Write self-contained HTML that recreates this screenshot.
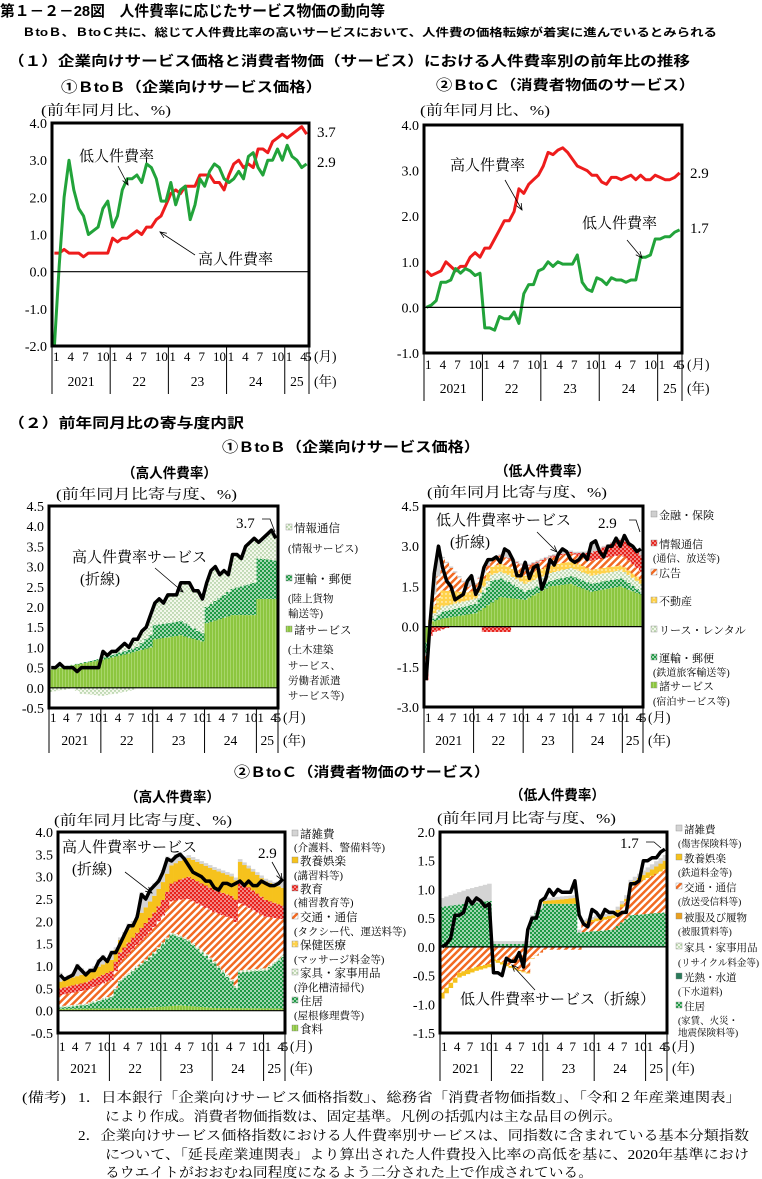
<!DOCTYPE html>
<html><head><meta charset="utf-8">
<style>
html,body{margin:0;padding:0;background:#fff;}
svg{display:block;}
.g{font-family:"Liberation Sans","Noto Sans CJK JP",sans-serif;font-weight:bold;}
.s{font-family:"Liberation Serif","Noto Serif CJK SC",serif;}
</style></head><body>
<svg id="sv" width="762" height="1179" viewBox="0 0 762 1179" xmlns="http://www.w3.org/2000/svg">
<defs>
<pattern id="gdot" width="4" height="4" patternUnits="userSpaceOnUse"><rect width="4" height="4" fill="#1e9a44"/><circle cx="1" cy="1" r="0.9" fill="#fff"/><circle cx="3" cy="3" r="0.9" fill="#fff"/></pattern>
<pattern id="wdot" width="4" height="4" patternUnits="userSpaceOnUse"><rect width="4" height="4" fill="#f4f8ec"/><circle cx="1" cy="1" r="0.7" fill="#7bb26a"/><circle cx="3" cy="3" r="0.7" fill="#7bb26a"/></pattern>
<pattern id="hatch" width="5" height="5" patternUnits="userSpaceOnUse" patternTransform="rotate(45)"><rect width="5" height="5" fill="#fff"/><rect width="2.5" height="5" fill="#f26a22"/></pattern>
<pattern id="rdot" width="4" height="4" patternUnits="userSpaceOnUse"><rect width="4" height="4" fill="#e8221c"/><circle cx="1" cy="1" r="0.8" fill="#fff"/><circle cx="3" cy="3" r="0.8" fill="#fff"/></pattern>
<pattern id="ydot" width="4" height="4" patternUnits="userSpaceOnUse"><rect width="4" height="4" fill="#ffd24a"/><circle cx="2" cy="2" r="0.7" fill="#fff"/></pattern>
<pattern id="lg" width="3" height="3" patternUnits="userSpaceOnUse"><rect width="3" height="3" fill="#8cc63f"/><rect x="2" width="1" height="3" fill="#a8d66a"/></pattern>
</defs>

<text class="g" x="0" y="16" font-size="15" textLength="385" lengthAdjust="spacingAndGlyphs">第１－２－28図　人件費率に応じたサービス物価の動向等</text>
<text class="g" x="22" y="36" font-size="11" textLength="695" lengthAdjust="spacingAndGlyphs">ＢtoＢ、ＢtoＣ共に、総じて人件費比率の高いサービスにおいて、人件費の価格転嫁が着実に進んでいるとみられる</text>
<text class="g" x="8" y="66" font-size="14" textLength="682" lengthAdjust="spacingAndGlyphs">（１）企業向けサービス価格と消費者物価（サービス）における人件費率別の前年比の推移</text>
<text class="g" x="61" y="92" font-size="14" textLength="261" lengthAdjust="spacingAndGlyphs">①ＢtoＢ（企業向けサービス価格）</text>
<text class="g" x="436" y="90" font-size="14" textLength="259" lengthAdjust="spacingAndGlyphs">②ＢtoＣ（消費者物価のサービス）</text>
<text class="s" x="41" y="115" font-size="14" textLength="130" lengthAdjust="spacingAndGlyphs">(前年同月比、%)</text>
<text class="s" x="420" y="115" font-size="14" textLength="130" lengthAdjust="spacingAndGlyphs">(前年同月比、%)</text>

<text class="g" x="8" y="428" font-size="14" textLength="236" lengthAdjust="spacingAndGlyphs">（２）前年同月比の寄与度内訳</text>
<text class="g" x="222" y="452" font-size="14" textLength="258" lengthAdjust="spacingAndGlyphs">①ＢtoＢ（企業向けサービス価格）</text>
<text class="g" x="122" y="478" font-size="14" textLength="95" lengthAdjust="spacingAndGlyphs">（高人件費率）</text>
<text class="g" x="495" y="476" font-size="14" textLength="95" lengthAdjust="spacingAndGlyphs">（低人件費率）</text>
<text class="s" x="56" y="499" font-size="14" textLength="181" lengthAdjust="spacingAndGlyphs">(前年同月比寄与度、%)</text>
<text class="s" x="427" y="497" font-size="14" textLength="180" lengthAdjust="spacingAndGlyphs">(前年同月比寄与度、%)</text>

<text class="g" x="234" y="777" font-size="14" textLength="256" lengthAdjust="spacingAndGlyphs">②ＢtoＣ（消費者物価のサービス）</text>
<text class="g" x="125" y="802" font-size="14" textLength="95" lengthAdjust="spacingAndGlyphs">（高人件費率）</text>
<text class="g" x="510" y="800" font-size="14" textLength="95" lengthAdjust="spacingAndGlyphs">（低人件費率）</text>
<text class="s" x="54" y="825" font-size="14" textLength="178" lengthAdjust="spacingAndGlyphs">(前年同月比寄与度、%)</text>
<text class="s" x="437" y="823" font-size="14" textLength="179" lengthAdjust="spacingAndGlyphs">(前年同月比寄与度、%)</text>

<g class="s" font-size="13.5">
<text x="22" y="1102" textLength="44" lengthAdjust="spacingAndGlyphs">(備考)</text>
<text x="78" y="1102" textLength="663" lengthAdjust="spacingAndGlyphs">1．日本銀行「企業向けサービス価格指数」、総務省「消費者物価指数」、「令和２年産業連関表」</text>
<text x="105" y="1121" textLength="517" lengthAdjust="spacingAndGlyphs">により作成。消費者物価指数は、固定基準。凡例の括弧内は主な品目の例示。</text>
<text x="78" y="1140" textLength="671" lengthAdjust="spacingAndGlyphs">2．企業向けサービス価格指数における人件費率別サービスは、同指数に含まれている基本分類指数</text>
<text x="105" y="1159" textLength="644" lengthAdjust="spacingAndGlyphs">について、「延長産業連関表」より算出された人件費投入比率の高低を基に、2020年基準におけ</text>
<text x="105" y="1177" textLength="488" lengthAdjust="spacingAndGlyphs">るウエイトがおおむね同程度になるよう二分された上で作成されている。</text>
</g>
<g id="charts"></g>
</svg>
<script>
var NS="http://www.w3.org/2000/svg",root=document.getElementById("charts");
function el(t,a,p,txt){var e=document.createElementNS(NS,t);for(var k in a)e.setAttribute(k,a[k]);if(txt!=null)e.textContent=txt;(p||root).appendChild(e);return e;}
function interp(keys){var o=[];for(var i=0;i<53;i++){for(var j=0;j<keys.length-1;j++){var a=keys[j],b=keys[j+1];if(i>=a[0]&&i<=b[0]){o.push(a[1]+(b[1]-a[1])*(i-a[0])/((b[0]-a[0])||1));break;}}if(o.length<=i)o.push(keys[keys.length-1][1]);}return o;}
function Chart(c){
 var W=c.x1-c.x0,dx=W/53;
 c.X=function(i){return c.x0+(i+0.5)*dx;};
 c.Y=function(v){return c.y0+(c.vmax-v)/(c.vmax-c.vmin)*(c.y1-c.y0);};
 c.ticks.forEach(function(t){el("text",{x:c.x0-5,y:c.Y(t[0])+5,"text-anchor":"end","font-size":14,"class":"s"},null,t[1]);});
 return c;}
function frame(c){
 el("line",{x1:c.x0,x2:c.x1,y1:c.Y(0),y2:c.Y(0),stroke:"#000","stroke-width":1.2});
 el("rect",{x:c.x0,y:c.y0,width:c.x1-c.x0,height:c.y1-c.y0,fill:"none",stroke:"#000","stroke-width":3});
 var dx=(c.x1-c.x0)/53;
 var yrs=["2021","22","23","24","25"];
 for(var y=0;y<=5;y++){var xi=c.x0+Math.min(y*12,53)*dx;el("line",{x1:xi,x2:xi,y1:c.y1,y2:c.yl+8,stroke:"#000","stroke-width":1});}
 for(var i=0;i<53;i++){var m=i%12;if(m==0||m==3||m==6||m==9||i==52){el("text",{x:c.x0+i*dx+1,y:c.ml,"font-size":13,"class":"s"},null,i==52?"5":String(m+1));}}
 for(var y=0;y<5;y++){var a=y*12,b=Math.min(a+12,53);el("text",{x:c.x0+(a+b)/2*dx,y:c.yl,"font-size":13.5,"text-anchor":"middle","class":"s"},null,yrs[y]);}
 el("text",{x:c.x1+5,y:c.ml,"font-size":13.5,"class":"s"},null,"(月)");
 el("text",{x:c.x1+5,y:c.yl,"font-size":13.5,"class":"s"},null,"(年)");
}
function line(c,d,col,w){var p=d.map(function(v,i){return (i?"L":"M")+c.X(i).toFixed(1)+","+c.Y(v).toFixed(1);}).join("");el("path",{d:p,fill:"none",stroke:col,"stroke-width":w,"stroke-linejoin":"round"});}
function bars(c,comps){var dx=(c.x1-c.x0)/53;for(var i=0;i<53;i++){var pos=0,neg=0;comps.forEach(function(cp){var v=cp.d[i];if(!v)return;var a,b;if(v>0){a=pos;b=pos+v;pos=b;}else{a=neg;b=neg+v;neg=b;}var ya=c.Y(a),yb=c.Y(b);el("rect",{x:c.x0+i*dx,y:Math.min(ya,yb),width:dx+0.3,height:Math.abs(ya-yb),fill:cp.f});});}}
function txt(x,y,s,fs,cls){el("text",{x:x,y:y,"font-size":fs,"class":cls||"s"},null,s);}
function arr(x1,y1,x2,y2){el("line",{x1:x1,y1:y1,x2:x2,y2:y2,stroke:"#000","stroke-width":0.8});var a=Math.atan2(y2-y1,x2-x1),L=7;el("path",{d:"M"+(x2-L*Math.cos(a-0.4))+","+(y2-L*Math.sin(a-0.4))+"L"+x2+","+y2+"L"+(x2-L*Math.cos(a+0.4))+","+(y2-L*Math.sin(a+0.4)),fill:"none",stroke:"#000","stroke-width":0.8});}
function leg(x,items,fs){fs=fs||11.5;items.forEach(function(it){if(it[2]){el("rect",{x:x,y:it[1]-8,width:6,height:6,fill:it[2],stroke:"#888","stroke-width":0.4});txt(x+8,it[1],it[0],fs);}else txt(x+2,it[1],it[0],fs-1);});}

var bbHigh=[.5,.5,.6,.5,.5,.5,.4,.5,.5,.5,.5,.5, .9,.8,.9,.9,1.0,1.1,1.0,1.2,1.2,1.4,1.5,1.8, 2.1,2.2,2.1,2.3,2.3,2.3,2.6,2.6,2.6,2.4,2.4,2.2, 2.6,2.9,3.0,2.8,2.9,2.8,3.3,3.3,3.2,3.5,3.6,3.7, 3.6,3.7,3.8,3.9,3.7];
var bbLow=[-2.0,0.2,2.0,3.0,2.2,1.7,1.5,1.0,1.1,1.2,1.7,1.9, 1.2,1.5,2.2,2.5,2.5,2.6,2.4,2.9,2.8,2.5,1.9,1.9, 2.4,1.8,2.2,2.3,1.4,1.8,2.5,2.3,2.7,2.9,2.8,2.5, 2.4,2.5,2.7,2.5,3.1,3.2,2.8,2.6,3.0,3.0,3.3,3.0, 3.4,3.1,3.0,2.8,2.9];
var bcHigh=[.8,.7,.75,.8,1.0,.9,.8,.9,.9,1.1,1.2,1.1, 1.3,1.3,1.5,1.7,1.9,1.9,2.1,2.6,2.5,2.7,2.8,2.9, 3.1,3.4,3.35,3.45,3.5,3.4,3.25,3.1,3.05,3.0,2.9,2.9, 2.75,2.7,2.85,2.85,2.8,2.85,2.9,2.8,2.9,2.8,2.8,2.9, 2.85,2.8,2.8,2.85,2.95];
var bcLow=[0.0,.05,.15,.55,.55,.6,.85,.75,.85,.8,.7,.75, -.45,-.45,-.5,-.2,-.25,-.25,-.1,-.35,.3,.5,.5,.8, .85,1.0,.9,1.0,.95,.95,.95,1.15,.55,.4,.35,.65, .6,.5,.65,.6,.6,.55,.6,.6,1.1,1.1,1.15,1.5, 1.5,1.55,1.55,1.65,1.7];

var c1=Chart({x0:52,x1:309,y0:123,y1:346,vmax:4,vmin:-2,ml:361,yl:386,ticks:[[4,"4.0"],[3,"3.0"],[2,"2.0"],[1,"1.0"],[0,"0.0"],[-1,"-1.0"],[-2,"-2.0"]]});
line(c1,bbHigh,"#ee1c1c",3);line(c1,bbLow,"#22a33a",3);frame(c1);
txt(79,161,"低人件費率",15);arr(118,166,128,185);
txt(198,264,"高人件費率",15);arr(195,255,160,232);
txt(317,137,"3.7",15);txt(317,167,"2.9",15);

var c2=Chart({x0:424,x1:682,y0:125,y1:353,vmax:4,vmin:-1,ml:369,yl:393,ticks:[[4,"4.0"],[3,"3.0"],[2,"2.0"],[1,"1.0"],[0,"0.0"],[-1,"-1.0"]]});
line(c2,bcHigh,"#ee1c1c",3);line(c2,bcLow,"#22a33a",3);frame(c2);
txt(450,170,"高人件費率",15);arr(505,180,522,210);
txt(582,228,"低人件費率",15);arr(627,240,642,258);
txt(690,178,"2.9",15);txt(690,233,"1.7",15);

var c3=Chart({x0:49,x1:278,y0:506,y1:708,vmax:4.5,vmin:-0.5,ml:722,yl:745,ticks:[[4.5,"4.5"],[4,"4.0"],[3.5,"3.5"],[3,"3.0"],[2.5,"2.5"],[2,"2.0"],[1.5,"1.5"],[1,"1.0"],[.5,"0.5"],[0,"0.0"],[-.5,"-0.5"]]});
var sv3=interp([[0,.45],[12,.7],[18,.85],[23,1.0],[24,1.2],[30,1.3],[35,1.15],[36,1.6],[42,1.8],[47,1.8],[48,2.2],[52,2.2]]);
var tr3=interp([[0,0],[11,.03],[12,.05],[20,.1],[23,.3],[24,.35],[30,.35],[35,.2],[36,.4],[42,.65],[47,.8],[48,1.0],[52,.95]]);
var in3=bbHigh.map(function(v,i){return Math.max(0,v-sv3[i]-tr3[i]);});
var inN=interp([[0,-.1],[3,-.05],[5,0],[7,-.15],[12,-.2],[16,-.12],[19,-.05],[20,0],[52,0]]);
bars(c3,[{d:sv3,f:"url(#lg)"},{d:tr3,f:"url(#gdot)"},{d:in3,f:"url(#wdot)"},{d:inN,f:"url(#wdot)"}]);
line(c3,bbHigh,"#000",3.5);frame(c3);
txt(72,562,"高人件費率サービス",15);txt(80,584,"(折線)",15);arr(155,568,183,592);
txt(236,528,"3.7",15);el("path",{d:"M262,519 L270,519 L275,532",fill:"none",stroke:"#000","stroke-width":.8});
leg(286,[["情報通信",532,"url(#wdot)"],["(情報サービス)",552],["運輸・郵便",583,"url(#gdot)"],["(陸上貨物",602],["輸送等)",617],["諸サービス",634,"url(#lg)"],["(土木建築",653],["サービス、",669],["労働者派遣",684],["サービス等)",699]]);

var c4=Chart({x0:424,x1:643,y0:506,y1:707,vmax:4.5,vmin:-3,ml:722,yl:745,ticks:[[4.5,"4.5"],[3,"3.0"],[1.5,"1.5"],[0,"0.0"],[-1.5,"-1.5"],[-3,"-3.0"]]});
var sv4=interp([[0,-.6],[1,0],[2,.2],[4,.3],[12,.5],[18,1.1],[24,1.0],[30,1.5],[35,1.6],[40,1.3],[47,1.5],[52,1.2]]);
var tr4=interp([[0,-.4],[1,0],[2,.1],[4,.25],[12,.35],[16,.8],[20,.6],[24,.3],[30,.2],[36,.3],[48,.3],[52,.1]]);
var le4=interp([[0,0],[2,.2],[12,.2],[24,.3],[36,.3],[52,.3]]);
var re4=interp([[0,0],[2,.3],[4,.6],[10,.3],[24,.3],[36,.25],[52,.15]]);
var ad4=interp([[0,-.5],[1,0],[2,.4],[4,1.2],[7,.7],[10,.2],[20,.3],[36,.3],[48,.4],[52,.3]]);
var rf4=interp([[0,-.5],[2,-.2],[4,-.1],[6,0],[36,.05],[40,.3],[48,.6],[52,.6]]);
var rN=interp([[0,0],[13,0],[14,-.2],[20,-.2],[21,0],[52,0]]);
var gr4=bbLow.map(function(v,i){if(i<2)return 0;return Math.max(.05,v-sv4[i]-tr4[i]-le4[i]-re4[i]-ad4[i]-Math.max(0,rf4[i]));});
var rfP=rf4.map(function(v){return Math.max(0,v);}),rfN=rf4.map(function(v,i){return Math.min(0,v)+rN[i];});
bars(c4,[{d:sv4,f:"url(#lg)"},{d:tr4,f:"url(#gdot)"},{d:le4,f:"url(#wdot)"},{d:re4,f:"url(#ydot)"},{d:ad4,f:"url(#hatch)"},{d:rfP,f:"url(#rdot)"},{d:gr4,f:"#cfcfcf"},{d:rfN,f:"url(#rdot)"}]);
line(c4,bbLow,"#000",3.5);frame(c4);
txt(436,525,"低人件費率サービス",15);txt(450,547,"(折線)",15);arr(537,532,557,552);
txt(598,528,"2.9",15);el("path",{d:"M629,520 L636,520 L640,532",fill:"none",stroke:"#000","stroke-width":.8});
leg(651,[["金融・保険",519,"#cfcfcf"],["情報通信",548,"url(#rdot)"],["(通信、放送等)",562],["広告",577,"url(#hatch)"],["不動産",605,"url(#ydot)"],["リース・レンタル",634,"url(#wdot)"],["運輸・郵便",662,"url(#gdot)"],["(鉄道旅客輸送等)",676],["諸サービス",690,"url(#lg)"],["(宿泊サービス等)",705]],11);

var c5=Chart({x0:58,x1:285,y0:832,y1:1033,vmax:4,vmin:-0.5,ml:1051,yl:1073,ticks:[[4,"4.0"],[3.5,"3.5"],[3,"3.0"],[2.5,"2.5"],[2,"2.0"],[1.5,"1.5"],[1,"1.0"],[.5,"0.5"],[0,"0.0"],[-.5,"-0.5"]]});
var fd5=interp([[0,.04],[20,.06],[28,.12],[36,.06],[52,.05]]);
var ho5=interp([[0,.03],[6,.08],[12,.25],[14,.6],[18,.9],[22,1.2],[26,1.6],[30,1.45],[36,1.0],[40,.6],[41,.45],[42,.8],[48,.85],[52,1.15]]);
var tc5=interp([[0,.25],[12,.35],[24,.6],[30,.9],[36,1.1],[42,1.5],[48,1.15],[52,.8]]);
var ed5=interp([[0,.15],[12,.2],[24,.35],[30,.5],[42,.5],[52,.3]]);
var he5=interp([[0,.03],[52,.05]]);
var en5=interp([[0,.15],[12,.25],[24,.4],[36,.45],[52,.4]]);
var ms5=bcHigh.map(function(v,i){return Math.max(.06,v-fd5[i]-ho5[i]-tc5[i]-ed5[i]-he5[i]-en5[i]+.05);});
bars(c5,[{d:fd5,f:"url(#lg)"},{d:ho5,f:"url(#gdot)"},{d:he5,f:"url(#wdot)"},{d:tc5,f:"url(#hatch)"},{d:ed5,f:"url(#rdot)"},{d:en5,f:"#f6c21c"},{d:ms5,f:"#d4d4d4"}]);
line(c5,bcHigh,"#000",3.5);frame(c5);
txt(62,852,"高人件費率サービス",15);txt(72,874,"(折線)",15);arr(125,872,152,893);
txt(258,858,"2.9",15);arr(272,862,282,880);
leg(292,[["諸雑費",838,"#d4d4d4"],["(介護料、警備料等)",851],["教養娯楽",865,"#f6c21c"],["(講習料等)",879],["教育",893,"url(#rdot)"],["(補習教育等)",906],["交通・通信",921,"url(#hatch)"],["(タクシー代、運送料等)",935],["保健医療",949,"url(#ydot)"],["(マッサージ料金等)",963],["家具・家事用品",977,"url(#wdot)"],["(浄化槽清掃代)",991],["住居",1005,"url(#gdot)"],["(屋根修理費等)",1019],["食料",1033,"url(#lg)"]]);

var c6=Chart({x0:440,x1:667,y0:832,y1:1033,vmax:2,vmin:-1.5,ml:1051,yl:1073,ticks:[[2,"2.0"],[1.5,"1.5"],[1,"1.0"],[.5,"0.5"],[0,"0.0"],[-.5,"-0.5"],[-1,"-1.0"],[-1.5,"-1.5"]]});
var ho6=interp([[0,.7],[11,.8],[12,.05],[20,.05],[21,.5],[24,.75],[31,.75],[32,.25],[40,.3],[44,.55],[52,.6]]);
var tc6=interp([[0,-.8],[4,-.45],[8,-.35],[11,-.3],[12,-.2],[18,-.4],[20,-.45],[21,-.2],[24,-.05],[32,-.05],[33,.15],[40,.2],[43,.3],[44,.5],[52,.75]]);
var en6=interp([[0,-.1],[12,-.05],[23,0],[24,.05],[31,.1],[32,0],[36,.05],[44,.05],[52,.15]]);
var ms6=interp([[0,.15],[6,.25],[11,.3],[12,.05],[24,.05],[40,.05],[52,.1]]);
var tcP=tc6.map(function(v){return Math.max(0,v);}),tcN=tc6.map(function(v){return Math.min(0,v);});
var enP=en6.map(function(v){return Math.max(0,v);}),enN=en6.map(function(v){return Math.min(0,v);});
bars(c6,[{d:ho6,f:"url(#gdot)"},{d:tcP,f:"url(#hatch)"},{d:enP,f:"#f6c21c"},{d:ms6,f:"#d4d4d4"},{d:tcN,f:"url(#hatch)"},{d:enN,f:"#f6c21c"}]);
line(c6,bcLow,"#000",3.5);frame(c6);
txt(460,1004,"低人件費率サービス（折線）",15);arr(535,990,512,965);
txt(620,848,"1.7",15);el("path",{d:"M646,842 L654,842 L661,848",fill:"none",stroke:"#000","stroke-width":.8});
leg(676,[["諸雑費",833,"#d4d4d4"],["(傷害保険料等)",847],["教養娯楽",862,"#f6c21c"],["(鉄道料金等)",876],["交通・通信",891,"url(#hatch)"],["(放送受信料等)",905],["被服及び履物",921,"#e9a020"],["(被服賃料等)",935],["家具・家事用品",951,"url(#wdot)"],["(リサイクル料金等)",966],["光熱・水道",981,"#2a7a5a"],["(下水道料)",995],["住居",1010,"url(#gdot)"],["(家賃、火災・",1024],["地震保険料等)",1036]],10.5);
</script>
</body></html>
